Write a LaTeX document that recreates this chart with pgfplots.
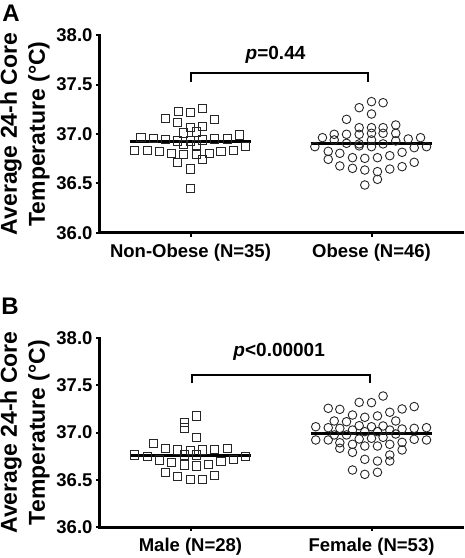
\documentclass[border=0pt]{standalone}
\usepackage{fontspec}
\setmainfont{Liberation Sans}
\usepackage{pgfplots}
\pgfplotsset{compat=1.18}
\begin{document}
\begin{tikzpicture}
\path[use as bounding box] (0pt,0pt) rectangle (465pt,558pt);
\pgfplotsset{
  panel/.style={
    scale only axis, width=362pt,
    xmin=0.5, xmax=2.5, ymin=36, ymax=38,
    ytick={36,36.5,37,37.5,38},
    xtick={1,2},
    axis x line*=bottom, axis y line*=left,
    axis line style={-, line width=3pt, line cap=rect},
    tick style={line width=2pt, black},
    tick align=outside, major tick length=4pt,
    yticklabel style={/pgf/number format/.cd, fixed, fixed zerofill, precision=1, assume math mode=true},
    ticklabel style={font=\fontsize{18.5}{20}\selectfont\bfseries},
    xticklabel style={yshift=-4pt},
    ylabel={Average 24-h Core\\Temperature (°C)},
    ylabel style={font=\fontsize{23}{28}\selectfont\bfseries, align=center},
    clip=false,
  },
  sq/.style={only marks, mark=square, mark size=4.1pt, mark options={line width=0.9pt, draw=black!85}},
  ci/.style={only marks, mark=o, mark size=4.3pt, mark options={line width=0.9pt, draw=black!85}},
  mean/.style={line width=3pt, black},
}
% Panel A
\begin{axis}[panel, height=198pt, at={(100pt,325pt)}, anchor=south west,
  xticklabels={{Non-Obese (N=35)},{Obese (N=46)}}]
\addplot[sq] coordinates {
(1.066,37.26) (0.932,37.225) (1.0,37.215) (0.862,37.155) (1.134,37.15)
(0.928,37.115) (1.0,37.07) (1.066,37.08) (0.963,37.01) (1.033,37.02)
(0.726,36.963) (0.794,36.953) (0.862,36.946) (0.928,36.93) (1.0,36.93)
(1.066,36.94) (1.134,36.95) (1.204,36.95) (1.269,36.99) (0.963,36.896)
(1.033,36.89) (1.304,36.872) (0.692,36.83) (0.761,36.83) (0.827,36.82)
(0.895,36.80) (0.963,36.79) (1.033,36.795) (1.103,36.805) (1.168,36.825)
(1.236,36.83) (1.066,36.744) (0.928,36.71) (1.0,36.646) (1.0,36.45)
};
\addplot[ci] coordinates {
(2.0,37.327) (2.064,37.316) (1.932,37.266) (2.0,37.202) (1.862,37.148)
(1.932,37.064) (2.0,37.064) (2.064,37.064) (2.134,37.091) (1.729,36.963)
(1.794,36.997) (1.862,36.997) (1.932,36.997) (2.0,37.007) (2.064,37.007)
(2.134,37.007) (2.203,36.95) (2.271,36.963) (1.794,36.94) (1.862,36.906)
(1.932,36.90) (1.932,36.88) (2.0,36.872) (2.064,36.90) (2.134,36.93)
(1.687,36.872) (2.236,36.862) (2.304,36.872) (1.761,36.825) (1.761,36.744)
(1.825,36.805) (1.895,36.761) (1.963,36.754) (2.033,36.761) (2.101,36.781)
(2.169,36.815) (1.825,36.677) (1.895,36.653) (1.963,36.636) (2.033,36.62)
(2.101,36.646) (2.169,36.67) (2.236,36.714) (2.033,36.542) (1.963,36.485)
(2.0,36.94)
};
\addplot[mean] coordinates {(0.665,36.92) (1.335,36.92)};
\addplot[mean] coordinates {(1.665,36.90) (2.335,36.90)};
\draw[line width=2pt] (axis cs:1,37.53) -- (axis cs:1,37.62) -- (axis cs:1.98,37.62) -- (axis cs:1.98,37.53);
\node[font=\fontsize{19}{20}\selectfont\bfseries] at (axis cs:1.47,37.80) {\textit{p}=0.44};
\end{axis}
% Panel B
\begin{axis}[panel, height=189pt, at={(100pt,31pt)}, anchor=south west,
  xticklabels={{Male (N=28)},{Female (N=53)}}]
\addplot[sq] coordinates {
(1.033,37.175) (0.965,37.104) (0.965,37.048) (1.033,36.945) (0.794,36.885)
(0.862,36.83) (0.928,36.815) (1.0,36.808) (1.066,36.815) (1.134,36.822)
(1.203,36.83) (0.692,36.762) (0.761,36.744) (0.965,36.762) (1.033,36.762)
(1.304,36.744) (0.827,36.709) (0.895,36.68) (0.965,36.656) (1.033,36.646)
(1.101,36.663) (1.168,36.691) (1.236,36.716) (0.862,36.579) (0.928,36.532)
(1.0,36.504) (1.066,36.504) (1.134,36.543)
};
\addplot[ci] coordinates {
(2.064,37.386) (1.932,37.319) (2.0,37.316) (1.761,37.256) (1.825,37.245)
(2.169,37.249) (2.236,37.274) (2.101,37.214) (1.895,37.185) (1.963,37.161)
(2.033,37.175) (1.794,37.122) (1.862,37.114) (2.134,37.122) (1.692,37.061)
(1.761,37.051) (1.825,37.044) (1.895,37.026) (1.932,37.072) (2.0,37.061)
(2.064,37.069) (2.101,37.026) (2.169,37.037) (2.236,37.044) (2.304,37.051)
(1.794,36.974) (1.862,36.974) (1.963,37.009) (2.033,37.009) (2.134,36.984)
(1.692,36.921) (1.761,36.921) (1.825,36.892) (1.932,36.931) (2.0,36.939)
(2.064,36.949) (2.236,36.928) (2.304,36.921) (1.895,36.875) (1.963,36.857)
(2.033,36.857) (2.101,36.875) (2.169,36.896) (1.825,36.833) (1.895,36.79)
(2.169,36.815) (2.101,36.762) (2.101,36.698) (1.963,36.716) (2.033,36.698)
(1.895,36.603) (1.963,36.557) (2.033,36.579)
};
\addplot[mean] coordinates {(0.665,36.755) (1.335,36.755)};
\addplot[mean] coordinates {(1.665,36.99) (2.335,36.99)};
\draw[line width=2pt] (axis cs:1.01,37.52) -- (axis cs:1.01,37.61) -- (axis cs:1.99,37.61) -- (axis cs:1.99,37.52);
\node[font=\fontsize{19}{20}\selectfont\bfseries] at (axis cs:1.49,37.85) {\textit{p}<0.00001};
\end{axis}
\node[font=\fontsize{24}{24}\selectfont\bfseries] at (11pt,545pt) {A};
\node[font=\fontsize{24}{24}\selectfont\bfseries] at (10pt,252pt) {B};
\end{tikzpicture}
\end{document}
